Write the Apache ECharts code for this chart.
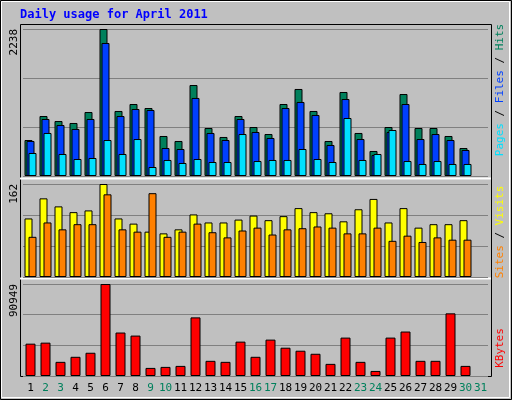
<!DOCTYPE html><html><head><meta charset="utf-8">
<script src="https://cdn.jsdelivr.net/npm/echarts@6/dist/echarts.min.js"></script>
<style>html,body{margin:0;padding:0;background:#c0c0c0}#c{width:512px;height:400px}</style></head><body><div id="c"></div>
<script>
const days=['1','2','3','4','5','6','7','8','9','10','11','12','13','14','15','16','17','18','19','20','21','22','23','24','25','26','27','28','29','30','31'];
const weekend=['2','3','9','10','16','17','23','24','30','31'];
const hits=[548,913,837,807,974,2238,990,1096,1035,609,533,1385,731,594,913,746,639,1096,1325,990,533,1279,655,381,746,1248,731,731,609,426,null];
const files=[533,868,776,716,868,2025,913,1020,1005,426,411,1188,655,548,868,670,579,1035,1127,929,472,1172,563,320,670,1096,563,639,548,396,null];
const pages=[350,655,335,259,274,548,335,563,137,244,198,259,213,213,639,228,244,244,411,259,213,883,244,335,700,228,183,228,183,183,null];
const visits=[102,137,123,113,116,162,102,93,79,76,83,109,95,95,100,107,99,106,120,113,111,97,118,136,95,120,86,92,92,99,null];
const sites=[70,95,83,92,92,144,83,79,146,70,79,93,78,69,81,86,74,83,85,88,86,76,76,86,63,72,61,69,65,65,null];
const kbytes=[31970,32970,13990,18980,22980,90949,42960,39960,7990,8990,9990,57940,14990,13990,33970,18980,35960,27970,24980,21980,11990,37960,13990,4995,37960,43960,14990,14990,61940,9990,null];
const maxes=[2238,162,90949];
const ch=echarts.init(document.getElementById('c'));
const grids=[{left:23,width:465,top:29,height:147},{left:23,width:465,top:184,height:93},{left:23,width:465,top:284,height:92}];
const mono='DejaVu Sans Mono';
function yax(i){return {gridIndex:i,min:0,max:maxes[i],interval:maxes[i]/3,
 axisLine:{show:false},axisTick:{show:false},
 splitLine:{lineStyle:{color:'#808080',width:1}},
 axisLabel:{formatter:v=>v===maxes[i]?String(maxes[i]):'',rotate:90,align:'right',margin:3,color:'#000',fontFamily:mono,fontSize:11}};}
function xax(i){return {type:'category',gridIndex:i,data:days,axisLine:{show:false},axisTick:{show:false},
 axisLabel:{show:i===2,margin:7,fontFamily:mono,fontSize:11,interval:0,color:v=>weekend.includes(v)?'#00805c':'#000'}};}
const bs={borderColor:'#000',borderWidth:1};
function bar(name,data,i,color,w,gap){return {name,type:'bar',xAxisIndex:i,yAxisIndex:i,data,barWidth:w,barGap:gap,itemStyle:Object.assign({color},bs)};}
const richStyles={h:{fill:'#00805c',fontFamily:mono,fontSize:11},f:{fill:'#0040ff',fontFamily:mono,fontSize:11},p:{fill:'#00e0ff',fontFamily:mono,fontSize:11},s:{fill:'#ffff00',fontFamily:mono,fontSize:11},v:{fill:'#ff8000',fontFamily:mono,fontSize:11},k:{fill:'#ff0000',fontFamily:mono,fontSize:11},g:{fill:'#000',fontFamily:mono,fontSize:11}};
function vl(x,y,text){return {type:'text',x:x,y:y,rotation:Math.PI/2,style:{text:text,rich:richStyles,align:'center',verticalAlign:'middle',fontFamily:mono,fontSize:11},z:10};}
ch.setOption({animation:false,backgroundColor:'#c0c0c0',
 graphic:[
  {type:'rect',shape:{x:0.5,y:0.5,width:511,height:399},style:{fill:'none',stroke:'#000',lineWidth:1}},
  {type:'rect',shape:{x:1.5,y:1.5,width:508,height:396},style:{fill:'none',stroke:'#fff',lineWidth:1}},
  {type:'rect',shape:{x:20.5,y:24.5,width:471,height:352},style:{fill:'none',stroke:'#000',lineWidth:1},z:-1},
  {type:'line',shape:{x1:20,y1:178.5,x2:491,y2:178.5},style:{stroke:'#fff',lineWidth:2}},
  {type:'line',shape:{x1:20,y1:278.5,x2:491,y2:278.5},style:{stroke:'#fff',lineWidth:2}},
  {type:'text',x:20,y:9,style:{text:'Daily usage for April 2011',fill:'#0000ff',fontFamily:mono,fontWeight:'bold',fontSize:12}},
  vl(500,90,'{p|Pages}{g| / }{f|Files}{g| / }{h|Hits}'),
  vl(500,232,'{v|Sites}{g| / }{s|Visits}'),
  vl(500,348,'{k|KBytes}')
 ],
 grid:grids,xAxis:[xax(0),xax(1),xax(2)],yAxis:[yax(0),yax(1),yax(2)],
 series:[bar('Hits',hits,0,'#00805c',8,'-75%'),bar('Files',files,0,'#0040ff',8,'-75%'),bar('Pages',pages,0,'#00e0ff',8,'-75%'),
  bar('Visits',visits,1,'#ffff00',8,'-50%'),bar('Sites',sites,1,'#ff8000',8,'-50%'),
  bar('KBytes',kbytes,2,'#ff0000',10,'0%')]
});
</script></body></html>
